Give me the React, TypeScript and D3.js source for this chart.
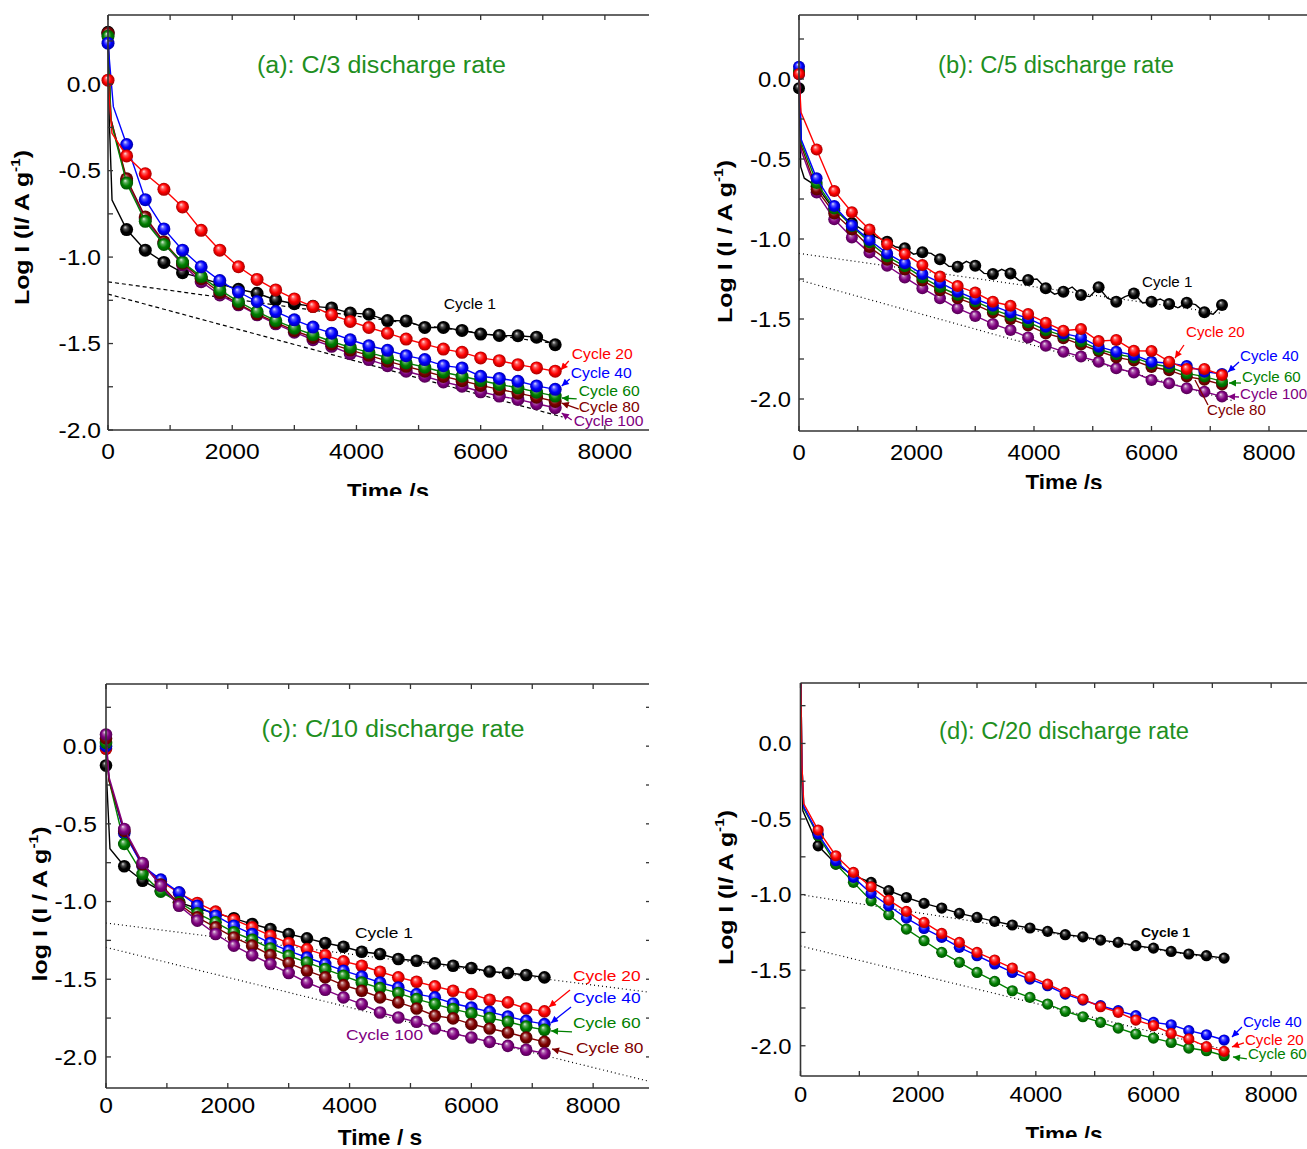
import React from 'react';
import * as d3 from 'd3';

// ---------- shared time axis (s) ----------
const TIMES = [0, 300, 600, 900, 1200, 1500, 1800, 2100, 2400, 2700, 3000, 3300, 3600, 3900, 4200, 4500, 4800, 5100, 5400, 5700, 6000, 6300, 6600, 6900, 7200];

// ---------- panel (a): C/3 ----------
const A_C1 = [0.30, -0.841, -0.960, -1.031, -1.090, -1.120, -1.155, -1.186, -1.209, -1.248, -1.270, -1.285, -1.294, -1.324, -1.330, -1.367, -1.369, -1.407, -1.407, -1.424, -1.445, -1.453, -1.455, -1.463, -1.507];
const A_C20 = [0.023, -0.415, -0.518, -0.608, -0.710, -0.845, -0.960, -1.056, -1.129, -1.190, -1.242, -1.286, -1.334, -1.372, -1.407, -1.440, -1.474, -1.503, -1.532, -1.551, -1.583, -1.599, -1.622, -1.641, -1.660];
const A_C40 = [0.237, -0.349, -0.668, -0.837, -0.960, -1.056, -1.136, -1.202, -1.257, -1.315, -1.363, -1.405, -1.440, -1.478, -1.513, -1.539, -1.570, -1.593, -1.628, -1.641, -1.689, -1.702, -1.718, -1.745, -1.765];
const A_C60 = [0.277, -0.572, -0.793, -0.927, -1.029, -1.113, -1.190, -1.257, -1.315, -1.367, -1.411, -1.449, -1.488, -1.522, -1.551, -1.583, -1.612, -1.637, -1.666, -1.689, -1.714, -1.737, -1.756, -1.781, -1.804];
const A_C80 = [0.295, -0.547, -0.768, -0.912, -1.035, -1.125, -1.205, -1.270, -1.328, -1.378, -1.425, -1.465, -1.503, -1.538, -1.568, -1.602, -1.632, -1.660, -1.690, -1.715, -1.742, -1.765, -1.787, -1.810, -1.835];
const A_C100 = [0.29, -0.56, -0.78, -0.92, -1.045, -1.142, -1.219, -1.276, -1.334, -1.386, -1.434, -1.478, -1.516, -1.559, -1.593, -1.628, -1.660, -1.689, -1.722, -1.747, -1.779, -1.804, -1.823, -1.848, -1.871];
const A_EARLY = { c1: [[20, -0.2], [65, -0.67]], c20: [[64, -0.284]], c40: [[86, -0.13]], c60: [[50, -0.22]], c80: [[45, -0.2]], c100: [[45, -0.2]] };
const A_FITS = [[[0, -1.143], [7200, -1.50]], [[0, -1.214], [7320, -1.925]]];

// ---------- panel (b): C/5 ----------
const B_C1 = [-0.058, -0.67, -0.82, -0.90, -0.97, -1.017, -1.058, -1.083, -1.127, -1.173, -1.167, -1.219, -1.215, -1.256, -1.308, -1.329, -1.350, -1.302, -1.392, -1.340, -1.392, -1.406, -1.398, -1.458, -1.412];
// wiggly Cycle 1 trace between markers (line only)
const B_C1_MID = [[1650, -1.05], [1950, -1.095], [2250, -1.09], [2550, -1.17], [2850, -1.14], [3150, -1.215], [3450, -1.19], [3750, -1.26], [4050, -1.25], [4350, -1.345], [4650, -1.30], [4950, -1.36], [5250, -1.37], [5550, -1.36], [5850, -1.40], [6150, -1.375], [6450, -1.43], [6750, -1.41], [7050, -1.47]];
const B_C20 = [0.031, -0.44, -0.70, -0.833, -0.940, -1.033, -1.094, -1.163, -1.235, -1.294, -1.335, -1.392, -1.417, -1.469, -1.523, -1.573, -1.563, -1.638, -1.631, -1.698, -1.700, -1.767, -1.812, -1.812, -1.85];
const B_C40 = [0.077, -0.621, -0.794, -0.915, -1.006, -1.090, -1.152, -1.219, -1.273, -1.329, -1.375, -1.417, -1.460, -1.496, -1.548, -1.590, -1.615, -1.673, -1.704, -1.725, -1.767, -1.777, -1.794, -1.829, -1.844];
const B_C60 = [0.05, -0.65, -0.81, -0.92, -1.02, -1.11, -1.17, -1.24, -1.30, -1.35, -1.39, -1.44, -1.48, -1.52, -1.57, -1.605, -1.64, -1.69, -1.72, -1.74, -1.78, -1.80, -1.84, -1.86, -1.89];
const B_C80 = [0.04, -0.69, -0.84, -0.94, -1.05, -1.13, -1.19, -1.26, -1.32, -1.37, -1.41, -1.46, -1.50, -1.54, -1.59, -1.62, -1.66, -1.70, -1.74, -1.76, -1.80, -1.82, -1.86, -1.88, -1.91];
const B_C100 = [0.03, -0.71, -0.877, -0.99, -1.085, -1.167, -1.240, -1.308, -1.371, -1.433, -1.481, -1.531, -1.569, -1.615, -1.667, -1.704, -1.735, -1.767, -1.808, -1.835, -1.881, -1.902, -1.933, -1.954, -1.985];
const B_EARLY = { c1: [[30, -0.55], [90, -0.62]], c20: [[35, -0.21]], c40: [[40, -0.38]], c60: [[40, -0.4]], c80: [[40, -0.42]], c100: [[40, -0.45]] };
const B_FITS = [[[0, -1.09], [7200, -1.465]], [[0, -1.256], [7370, -2.01]]];

// ---------- panel (c): C/10 ----------
const C_C1 = [-0.125, -0.773, -0.866, -0.93, -1.005, -1.045, -1.075, -1.108, -1.145, -1.177, -1.209, -1.237, -1.267, -1.291, -1.323, -1.338, -1.370, -1.381, -1.398, -1.413, -1.428, -1.450, -1.460, -1.473, -1.488];
const C_C20 = [-0.017, -0.55, -0.77, -0.87, -0.945, -1.009, -1.065, -1.117, -1.166, -1.220, -1.267, -1.306, -1.345, -1.385, -1.413, -1.452, -1.488, -1.516, -1.546, -1.574, -1.596, -1.632, -1.649, -1.688, -1.707];
const C_C40 = [0.0, -0.56, -0.77, -0.859, -0.941, -1.027, -1.091, -1.156, -1.209, -1.267, -1.317, -1.360, -1.402, -1.445, -1.482, -1.521, -1.553, -1.596, -1.617, -1.656, -1.682, -1.710, -1.740, -1.768, -1.789];
const C_C60 = [0.021, -0.629, -0.823, -0.936, -1.005, -1.076, -1.134, -1.198, -1.246, -1.302, -1.349, -1.392, -1.435, -1.478, -1.521, -1.557, -1.589, -1.628, -1.660, -1.692, -1.720, -1.750, -1.774, -1.804, -1.826];
const C_C80 = [0.05, -0.545, -0.76, -0.89, -1.016, -1.102, -1.166, -1.231, -1.284, -1.345, -1.396, -1.445, -1.488, -1.538, -1.574, -1.617, -1.649, -1.688, -1.735, -1.752, -1.789, -1.817, -1.843, -1.875, -1.903];
const C_C100 = [0.075, -0.533, -0.752, -0.898, -1.027, -1.123, -1.209, -1.284, -1.345, -1.402, -1.460, -1.521, -1.568, -1.617, -1.660, -1.714, -1.746, -1.774, -1.817, -1.850, -1.875, -1.903, -1.929, -1.954, -1.976];
const C_EARLY = { c1: [[65, -0.66]], c20: [[50, -0.22]], c40: [[50, -0.22]], c60: [[50, -0.22]], c80: [[50, -0.22]], c100: [[50, -0.2]] };
const C_FITS = [[[0, -1.138], [8950, -1.585]], [[0, -1.295], [8950, -2.16]]];

// ---------- panel (d): C/20 ----------
const D_C1 = [0.6, -0.677, -0.798, -0.875, -0.919, -0.974, -1.019, -1.058, -1.089, -1.124, -1.151, -1.177, -1.201, -1.221, -1.243, -1.265, -1.279, -1.301, -1.316, -1.338, -1.354, -1.376, -1.393, -1.404, -1.420];
const D_C20 = [0.6, -0.573, -0.743, -0.853, -0.948, -1.036, -1.111, -1.184, -1.257, -1.316, -1.382, -1.433, -1.486, -1.543, -1.592, -1.647, -1.691, -1.742, -1.779, -1.830, -1.867, -1.918, -1.955, -2.006, -2.037];
const D_C40 = [0.6, -0.600, -0.776, -0.886, -0.992, -1.074, -1.155, -1.224, -1.283, -1.349, -1.404, -1.459, -1.515, -1.559, -1.603, -1.658, -1.698, -1.735, -1.768, -1.801, -1.845, -1.861, -1.900, -1.927, -1.962];
const D_C60 = [0.6, -0.61, -0.798, -0.919, -1.041, -1.133, -1.228, -1.305, -1.382, -1.448, -1.515, -1.574, -1.636, -1.680, -1.724, -1.772, -1.808, -1.845, -1.883, -1.922, -1.949, -1.978, -2.015, -2.033, -2.066];
const D_EARLY = { c1: [[20, -0.2], [40, -0.445]], c20: [[25, -0.15], [56, -0.40]], c40: [[25, -0.15], [56, -0.42]], c60: [[25, -0.15], [56, -0.43]] };
const D_FITS = [[[0, -1.0], [7200, -1.432]], [[0, -1.34], [7200, -2.024]]];

// ---------- tick values ----------
const X_MAJOR = [0, 2000, 4000, 6000, 8000];
const X_MINOR = [1000, 3000, 5000, 7000];
const Y_MAJOR = [0, -0.5, -1.0, -1.5, -2.0];
const Y_MINOR = [0.25, -0.25, -0.75, -1.25, -1.75];

const COLORS: Record<string, string> = {
  c1: '#000000', c20: '#ff0000', c40: '#0000ff', c60: '#008000', c80: '#800000', c100: '#800080',
};

// ---------- annotations (data units) ----------
const A_LABELS = [
  { text: 'Cycle 1', k: 'c1', t: 5406, v: -1.300 },
  { text: 'Cycle 20', k: 'c20', t: 7466, v: -1.589 },
  { text: 'Cycle 40', k: 'c40', t: 7450, v: -1.699 },
  { text: 'Cycle 60', k: 'c60', t: 7579, v: -1.803 },
  { text: 'Cycle 80', k: 'c80', t: 7579, v: -1.896 },
  { text: 'Cycle 100', k: 'c100', t: 7498, v: -1.977 },
];
const A_ARROWS = [
  { k: 'c20', from: [7418, -1.601], to: [7289, -1.653], head: true },
  { k: 'c40', from: [7434, -1.705], to: [7305, -1.745], head: true },
  { k: 'c60', from: [7546, -1.820], to: [7305, -1.815], head: true },
  { k: 'c80', from: [7579, -1.879], to: [7305, -1.844], head: true },
  { k: 'c100', from: [7466, -1.942], to: [7305, -1.902], head: true },
];
const B_LABELS = [
  { text: 'Cycle 1', k: 'c1', t: 5838, v: -1.300 },
  { text: 'Cycle 20', k: 'c20', t: 6587, v: -1.6125 },
  { text: 'Cycle 40', k: 'c40', t: 7506, v: -1.7625 },
  { text: 'Cycle 60', k: 'c60', t: 7540, v: -1.894 },
  { text: 'Cycle 100', k: 'c100', t: 7506, v: -2.0 },
  { text: 'Cycle 80', k: 'c80', t: 6945, v: -2.1 },
];
const B_ARROWS = [
  { k: 'c20', from: [6553, -1.6625], to: [6400, -1.744], head: true },
  { k: 'c40', from: [7489, -1.769], to: [7302, -1.831], head: true },
  { k: 'c60', from: [7523, -1.900], to: [7319, -1.900], head: true },
  { k: 'c100', from: [7489, -1.9875], to: [7302, -1.984], head: true },
  { k: 'c80', from: [6962, -2.0375], to: [6740, -1.881], head: false },
];
const C_LABELS = [
  { text: 'Cycle 1', k: 'c1', t: 4089, v: -1.234 },
  { text: 'Cycle 100', k: 'c100', t: 3941, v: -1.891 },
  { text: 'Cycle 20', k: 'c20', t: 7670, v: -1.511 },
  { text: 'Cycle 40', k: 'c40', t: 7670, v: -1.653 },
  { text: 'Cycle 60', k: 'c60', t: 7670, v: -1.813 },
  { text: 'Cycle 80', k: 'c80', t: 7719, v: -1.974 },
];
const C_ARROWS = [
  { k: 'c20', from: [7620, -1.569], to: [7275, -1.678], head: true },
  { k: 'c40', from: [7637, -1.678], to: [7308, -1.781], head: true },
  { k: 'c60', from: [7653, -1.839], to: [7308, -1.833], head: true },
  { k: 'c80', from: [7670, -1.987], to: [7325, -1.949], head: true },
];
const D_LABELS = [
  { text: 'Cycle 1', k: 'c1', t: 5787, v: -1.280, bold: true },
  { text: 'Cycle 40', k: 'c40', t: 7520, v: -1.876 },
  { text: 'Cycle 20', k: 'c20', t: 7554, v: -1.995 },
  { text: 'Cycle 60', k: 'c60', t: 7605, v: -2.087 },
];
const D_ARROWS = [
  { k: 'c40', from: [7503, -1.876], to: [7334, -1.942], head: true },
  { k: 'c20', from: [7537, -1.981], to: [7334, -2.008], head: true },
  { k: 'c60', from: [7588, -2.087], to: [7351, -2.074], head: true },
];

const FONT = "Arial, 'Liberation Sans', Helvetica, sans-serif";
const TITLE_GREEN = '#1f8f1f';

const PANELS = [
  {
    id: 'a', crop: [0, 0, 649, 496], left: 108, right: 667, top: 15, bottom: 430, xMax: 9000, yMin: -2.0, yMax: 0.4,
    sx: 1.12, r: 6.5, dash: '4,3',
    series: [['c1', A_C1], ['c100', A_C100], ['c80', A_C80], ['c60', A_C60], ['c40', A_C40], ['c20', A_C20]],
    early: A_EARLY, mids: {}, fits: A_FITS, labels: A_LABELS, arrows: A_ARROWS, labelSize: 14,
    title: '(a): C/3 discharge rate', titleX: 257, titleY: 73, titleW: 249,
    yTitle: 'Log I (I/ A g', yTitleX: 29, yTitleY: 227.5, yTitleL: 155,
    xTitle: 'Time /s', xTitleX: 388, xTitleY: 499, xTitleW: 82, xTickY: 459, yTickGap: 7,
  },
  {
    id: 'b', crop: [655, 0, 652, 489], left: 799, right: 1327.75, top: 15, bottom: 431, xMax: 9000, yMin: -2.2, yMax: 0.4,
    sx: 1.08, r: 6, dash: '1,3',
    series: [['c1', B_C1], ['c100', B_C100], ['c80', B_C80], ['c60', B_C60], ['c40', B_C40], ['c20', B_C20]],
    early: B_EARLY, mids: { c1: B_C1_MID }, fits: B_FITS, labels: B_LABELS, arrows: B_ARROWS, labelSize: 14,
    title: '(b): C/5 discharge rate', titleX: 938, titleY: 73, titleW: 236,
    yTitle: 'Log I (I / A g', yTitleX: 732, yTitleY: 241.5, yTitleL: 163,
    xTitle: 'Time /s', xTitleX: 1064, xTitleY: 490, xTitleW: 77, xTickY: 460, yTickGap: 8,
  },
  {
    id: 'c', crop: [0, 670, 649, 479], left: 106, right: 651, top: 684, bottom: 1088, xMax: 8950, yMin: -2.2, yMax: 0.4,
    sx: 1.12, r: 6.3, dash: '1,3',
    series: [['c1', C_C1], ['c20', C_C20], ['c40', C_C40], ['c60', C_C60], ['c80', C_C80], ['c100', C_C100]],
    early: C_EARLY, mids: {}, fits: C_FITS, labels: C_LABELS, arrows: C_ARROWS, labelSize: 15.5,
    title: '(c): C/10 discharge rate', titleX: 261.6, titleY: 737, titleW: 263,
    yTitle: 'log I (I / A g', yTitleX: 47, yTitleY: 904, yTitleL: 155,
    xTitle: 'Time / s', xTitleX: 380, xTitleY: 1145, xTitleW: 84.5, xTickY: 1113, yTickGap: 9,
  },
  {
    id: 'd', crop: [655, 670, 652, 468], left: 800.5, right: 1330, top: 683, bottom: 1076, xMax: 9000, yMin: -2.2, yMax: 0.4,
    sx: 1.08, r: 5.6, dash: '1,3',
    series: [['c1', D_C1], ['c60', D_C60], ['c40', D_C40], ['c20', D_C20]],
    early: D_EARLY, mids: {}, fits: D_FITS, labels: D_LABELS, arrows: D_ARROWS, labelSize: 14,
    title: '(d): C/20 discharge rate', titleX: 939, titleY: 739, titleW: 250,
    yTitle: 'Log I (I/ A g', yTitleX: 733, yTitleY: 887.5, yTitleL: 155,
    xTitle: 'Time /s', xTitleX: 1064, xTitleY: 1142, xTitleW: 77, xTickY: 1102, yTickGap: 9,
  },
];

function Gradients() {
  return (
    <>
      {Object.entries(COLORS).map(([k, c]) => {
        const light = d3.interpolateRgb(c, '#ffffff')(k === 'c1' ? 0.85 : 0.88);
        const mid = d3.interpolateRgb(c, '#ffffff')(k === 'c1' ? 0.3 : 0.35);
        const dark = d3.interpolateRgb(c, '#000000')(0.35);
        return (
          <radialGradient key={k} id={`g-${k}`} cx="0.5" cy="0.5" r="0.5" fx="0.38" fy="0.3">
            <stop offset="0" stopColor={light} />
            <stop offset="0.28" stopColor={mid} />
            <stop offset="0.62" stopColor={c} />
            <stop offset="1" stopColor={dark} />
          </radialGradient>
        );
      })}
      {Object.entries(COLORS).map(([k, c]) => (
        <marker key={`m${k}`} id={`ah-${k}`} viewBox="0 0 10 10" refX="10" refY="5" markerWidth="8" markerHeight="7"
          markerUnits="userSpaceOnUse" orient="auto">
          <path d="M0,0 L10,5 L0,10 z" fill={c} />
        </marker>
      ))}
    </>
  );
}

function Panel({ p }: { p: any }) {
  const x = d3.scaleLinear().domain([0, p.xMax]).range([p.left, p.right]);
  const y = d3.scaleLinear().domain([p.yMin, p.yMax]).range([p.bottom, p.top]);
  const line = d3.line<number[]>().x((d) => x(d[0])).y((d) => y(d[1]));
  const [cx, cy, cw, ch] = p.crop;
  const axisColor = '#333';
  const tickLen = 5;
  const yMajor = Y_MAJOR.filter((v) => v >= p.yMin - 1e-9 && v <= p.yMax + 1e-9);
  const yMinor = Y_MINOR.filter((v) => v >= p.yMin - 1e-9 && v <= p.yMax + 1e-9);
  const xAll = [...X_MAJOR, ...X_MINOR];
  const yAll = [...yMajor, ...yMinor];
  const fmt = (v: number) => (Math.abs(v) < 1e-9 ? '0.0' : v.toFixed(1));

  return (
    <g clipPath={`url(#crop-${p.id})`}>
      <defs>
        <clipPath id={`crop-${p.id}`}>
          <rect x={cx} y={cy} width={cw} height={ch} />
        </clipPath>
        <clipPath id={`plot-${p.id}`}>
          <rect x={p.left - 12} y={p.top} width={p.right - p.left + 12} height={p.bottom - p.top + 12} />
        </clipPath>
      </defs>

      <g clipPath={`url(#plot-${p.id})`}>
        {p.fits.map((f: number[][], i: number) => (
          <path key={i} d={line(f) || ''} fill="none" stroke="#000" strokeWidth={1.2} strokeDasharray={p.dash} />
        ))}
        {p.series.map(([k, vals]: [string, number[]]) => {
          const pts: number[][] = TIMES.map((t, i) => [t, vals[i]]);
          const linePts = [pts[0], ...(p.early[k] || []), ...pts.slice(1), ...((p.mids && p.mids[k]) || [])]
            .slice()
            .sort((a, b) => a[0] - b[0]);
          return (
            <g key={k}>
              <path d={line(linePts) || ''} fill="none" stroke={COLORS[k]} strokeWidth={1.4} />
              {pts.map((d, i) => (
                <circle key={i} cx={x(d[0])} cy={y(d[1])} r={p.r} fill={`url(#g-${k})`} />
              ))}
            </g>
          );
        })}
      </g>

      <line x1={p.left} x2={p.right} y1={p.bottom} y2={p.bottom} stroke={axisColor} strokeWidth={1.6} />
      <line x1={p.left} x2={p.right} y1={p.top} y2={p.top} stroke={axisColor} strokeWidth={1.6} />
      <line x1={p.left} x2={p.left} y1={p.top} y2={p.bottom} stroke={axisColor} strokeWidth={1.6} />
      <line x1={p.right} x2={p.right} y1={p.top} y2={p.bottom} stroke={axisColor} strokeWidth={1.6} />
      {xAll.map((t) => (
        <g key={`xt${t}`}>
          <line x1={x(t)} x2={x(t)} y1={p.bottom} y2={p.bottom - tickLen} stroke={axisColor} strokeWidth={1.3} />
          <line x1={x(t)} x2={x(t)} y1={p.top} y2={p.top + tickLen} stroke={axisColor} strokeWidth={1.3} />
        </g>
      ))}
      {yAll.map((v) => (
        <g key={`yt${v}`}>
          <line x1={p.left} x2={p.left + tickLen} y1={y(v)} y2={y(v)} stroke={axisColor} strokeWidth={1.3} />
          <line x1={p.right} x2={p.right - tickLen} y1={y(v)} y2={y(v)} stroke={axisColor} strokeWidth={1.3} />
        </g>
      ))}

      {X_MAJOR.map((t) => (
        <g key={`xl${t}`} transform={`translate(${x(t)},${p.xTickY}) scale(${p.sx},1)`}>
          <text textAnchor="middle" fontSize={22} fontFamily={FONT} fill="#000">{String(t)}</text>
        </g>
      ))}
      {yMajor.map((v) => (
        <g key={`yl${v}`} transform={`translate(${p.left - p.yTickGap},${y(v) + 7.8}) scale(${p.sx},1)`}>
          <text textAnchor="end" fontSize={22} fontFamily={FONT} fill="#000">{fmt(v)}</text>
        </g>
      ))}

      <text transform={`translate(${p.yTitleX},${p.yTitleY}) rotate(-90)`} textAnchor="middle" fontSize={21}
        fontWeight="bold" fontFamily={FONT} fill="#000" textLength={p.yTitleL} lengthAdjust="spacingAndGlyphs">
        {p.yTitle}
        <tspan dy={-9} fontSize={13}>-1</tspan>
        <tspan dy={9}>)</tspan>
      </text>
      <text x={p.xTitleX} y={p.xTitleY} textAnchor="middle" fontSize={22} fontWeight="bold" fontFamily={FONT}
        fill="#000" textLength={p.xTitleW} lengthAdjust="spacingAndGlyphs">{p.xTitle}</text>

      <text x={p.titleX} y={p.titleY} fontSize={23} fontFamily={FONT} fill={TITLE_GREEN}
        textLength={p.titleW} lengthAdjust="spacingAndGlyphs">{p.title}</text>

      {p.arrows.map((a: any, i: number) => (
        <line key={`ar${i}`} x1={x(a.from[0])} y1={y(a.from[1])} x2={x(a.to[0])} y2={y(a.to[1])}
          stroke={COLORS[a.k]} strokeWidth={1.3} markerEnd={a.head ? `url(#ah-${a.k})` : undefined} />
      ))}
      {p.labels.map((l: any, i: number) => (
        <g key={`lb${i}`} transform={`translate(${x(l.t)},${y(l.v)}) scale(${p.sx},1)`}>
          <text fontSize={l.bold ? 13 : p.labelSize} fontWeight={l.bold ? 'bold' : 'normal'} fontFamily={FONT}
            fill={COLORS[l.k]}>{l.text}</text>
        </g>
      ))}
    </g>
  );
}

export default function App() {
  return (
    <svg width={1307} height={1149} viewBox="0 0 1307 1149"
      style={{ position: 'absolute', left: 0, top: 0, background: '#fff', display: 'block' }}>
      <defs>
        <Gradients />
      </defs>
      <rect x={0} y={0} width={1307} height={1149} fill="#fff" />
      {PANELS.map((p) => (
        <Panel key={p.id} p={p} />
      ))}
    </svg>
  );
}
